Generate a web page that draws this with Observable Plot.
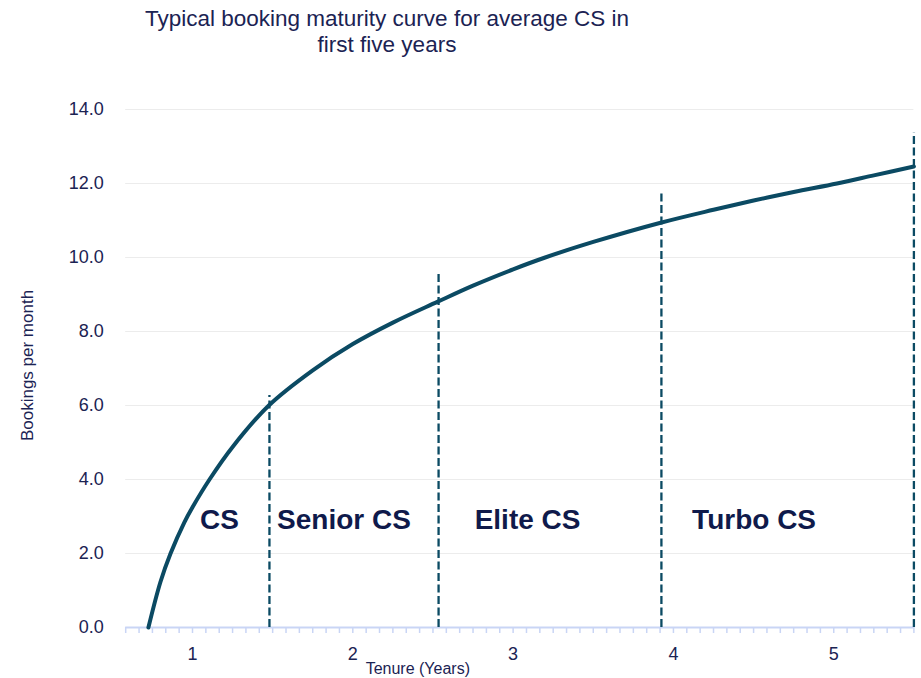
<!DOCTYPE html>
<html>
<head>
<meta charset="utf-8">
<script src="https://cdn.jsdelivr.net/npm/d3@7"></script>
<script src="https://cdn.jsdelivr.net/npm/@observablehq/plot@0.6"></script>
<style>
  html, body { margin: 0; padding: 0; background: #fff; }
  #wrap { position: relative; width: 921px; height: 678px; font-family: "Liberation Sans", Arial, sans-serif; }
  #title { position: absolute; left: 87px; width: 600px; top: 6px; text-align: center; font-size: 22.5px; line-height: 26px; color: #1b2353; }
  #chart { position: absolute; left: 0; top: 0; }
</style>
</head>
<body>
<div id="wrap">
  <div id="chart"></div>
  <div id="title">Typical booking maturity curve for average CS in<br>first five years</div>
</div>
<script>
// Curve points (tenure in years, bookings per month)
const tenure   = [0.725, 0.80, 0.863, 0.95, 1.0, 1.106, 1.25, 1.476, 1.75, 2.0, 2.25, 2.527, 2.75, 3.0, 3.2, 3.5, 3.92, 4.25, 4.5, 4.75, 5.02, 5.25, 5.50];
const bookings = [0.0,   1.23, 2.0,   2.85, 3.25, 4.0,  4.88, 6.0,   6.95, 7.66, 8.24, 8.8,  9.24, 9.68, 10.0, 10.42, 10.94, 11.29, 11.54, 11.77, 12.0, 12.22, 12.46];

// Level boundaries (dashed lines)
const boundaryX   = [1.48, 2.535, 3.925, 5.50];
const boundaryTop = [6.27, 9.59, 11.72, 13.37];

// Level labels
const levelNames = ["CS", "Senior CS", "Elite CS", "Turbo CS"];
const levelX     = [1.168, 1.945, 3.09, 4.503];
const levelY     = [2.9, 2.9, 2.9, 2.9];

// Axis ticks
const yTicks = [0, 2, 4, 6, 8, 10, 12, 14];
const xLabels = [1, 2, 3, 4, 5];
const monthTicks = d3.range(7, 67).map(k => k / 12);

const curve = tenure.map((t, i) => ({t, b: bookings[i]}));
const bounds = boundaryX.map((x, i) => ({x, top: boundaryTop[i]}));
const levels = levelNames.map((name, i) => ({name, x: levelX[i], y: levelY[i]}));

const navy = "#1b2353";
const teal = "#0b4a63";
const axisBlue = "#c9d5f5";

const chart = Plot.plot({
  width: 921,
  height: 678,
  marginLeft: 125.2,
  marginRight: 7.6,
  marginTop: 109,
  marginBottom: 51,
  style: { fontFamily: "'Liberation Sans', Arial, sans-serif", color: navy, background: "transparent" },
  x: { domain: [7/12, 5.5] },
  y: { domain: [0, 14] },
  marks: [
    Plot.ruleY(yTicks.filter(d => d > 0), { stroke: "#ececec", strokeWidth: 1 }),
    Plot.axisY({ ticks: yTicks, tickSize: 0, tickPadding: 22, tickFormat: d3.format(".1f"), fontSize: 18, fill: navy, label: null }),
    Plot.ruleY([0], { stroke: axisBlue, strokeWidth: 2 }),
    Plot.axisX({ ticks: monthTicks, tickSize: 6, stroke: axisBlue, strokeWidth: 1.5, text: null, label: null }),
    Plot.axisX({ ticks: xLabels, tickSize: 0, tickPadding: 20, fontSize: 18, fill: navy, label: null, tickFormat: d => String(d) }),
    Plot.ruleX(bounds, { x: "x", y1: 0, y2: "top", stroke: teal, strokeWidth: 2.3, strokeDasharray: "8,3.5" }),
    Plot.line(curve, { x: "t", y: "b", curve: "catmull-rom", stroke: teal, strokeWidth: 4 }),
    Plot.text(levels, { x: "x", y: "y", text: "name", fontSize: 28, fontWeight: "bold", fill: "#0f1a4b", textAnchor: "middle", lineAnchor: "middle" }),
    Plot.text(["Tenure (Years)"], { frameAnchor: "bottom", dx: -102, dy: 41, lineAnchor: "middle", fontSize: 16, fill: navy }),
    Plot.text(["Bookings per month"], { frameAnchor: "left", dx: -98, dy: -3, rotate: -90, lineAnchor: "middle", textAnchor: "middle", fontSize: 17, fill: navy })
  ]
});
document.getElementById("chart").appendChild(chart);
</script>
</body>
</html>
